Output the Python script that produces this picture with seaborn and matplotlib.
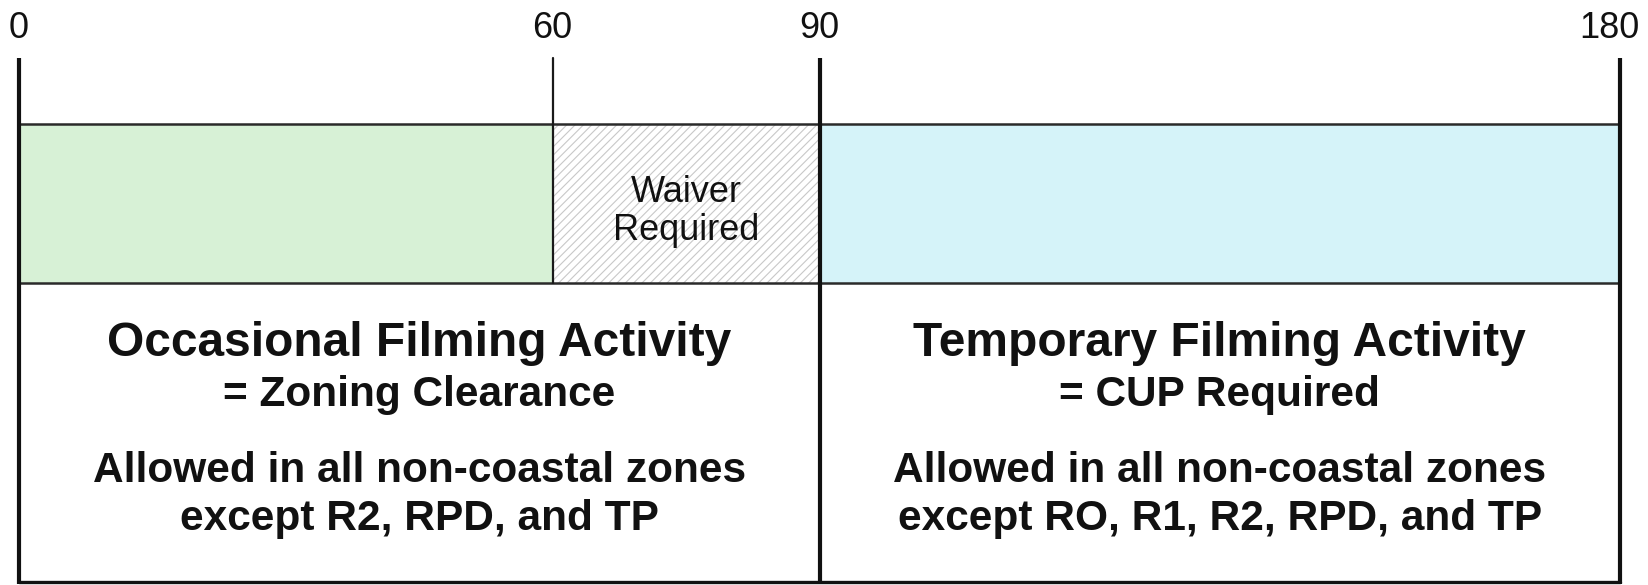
import matplotlib
matplotlib.use("Agg")
import matplotlib.pyplot as plt
import seaborn as sns

# timeline data (days)
tick_days = [0, 60, 90, 180]
seg_start = [0, 60, 90]
seg_end = [60, 90, 180]
seg_colors = ["#d7f1d6", "#ffffff", "#d5f3f9"]
seg_hatch = [None, "////", None]
seg_labels = [[], ["Waiver", "Required"], []]

period_start = [0, 90]
period_end = [90, 180]
period_titles = ["Occasional Filming Activity", "Temporary Filming Activity"]
period_subtitles = ["= Zoning Clearance", "= CUP Required"]
period_notes = [["Allowed in all non-coastal zones", "except R2, RPD, and TP"],
                ["Allowed in all non-coastal zones", "except RO, R1, R2, RPD, and TP"]]

sns.set_theme(style="white")
plt.rcParams["font.family"] = ["Liberation Sans", "DejaVu Sans"]
plt.rcParams["hatch.color"] = "#c8c8c8"
plt.rcParams["hatch.linewidth"] = 0.8

fig = plt.figure(figsize=(16.48, 5.85), dpi=100)
ax = fig.add_axes([0, 0, 1, 1])
ax.set_xlim(-2.14, 183.15)
ax.set_ylim(585, 0)
ax.axis("off")

ink = "#111111"

# bar segments
bar_top, bar_bottom = 124, 283
for s, e, c, h, lab in zip(seg_start, seg_end, seg_colors, seg_hatch, seg_labels):
    ax.barh((bar_top + bar_bottom) / 2, e - s, left=s, height=bar_bottom - bar_top,
            color=c, hatch=h, edgecolor="#c8c8c8" if h else c, linewidth=0)
    for i, line in enumerate(lab):
        ax.text((s + e) / 2, 192 + 39 * i, line, ha="center", va="center",
                fontsize=26, color=ink)
ax.plot([0, 180], [bar_top, bar_top], color="#2a2a2a", lw=1.8)
ax.plot([0, 180], [bar_bottom, bar_bottom], color="#2a2a2a", lw=1.8)

# vertical markers and day labels
for d in tick_days:
    if d == 60:
        ax.plot([d, d], [58, bar_bottom], color="#1a1a1a", lw=1.6)
    else:
        ax.plot([d, d], [58, 584], color=ink, lw=3.0, solid_capstyle="butt")
    if d == tick_days[-1]:
        # last label pushed left so it stays inside the figure
        ax.annotate(str(d), (d, 28), xytext=(20, 0), textcoords="offset pixels",
                    ha="right", va="center", fontsize=26, color=ink)
    else:
        ax.text(d, 28, str(d), ha="center", va="center", fontsize=26, color=ink)
ax.plot([0, 180], [582, 582], color=ink, lw=2.4)

# period descriptions
for s, e, t, st, n in zip(period_start, period_end, period_titles, period_subtitles, period_notes):
    cx = (s + e) / 2
    ax.text(cx, 343, t, ha="center", va="center", fontsize=34.5, fontweight="bold", color=ink)
    ax.text(cx, 395, st, ha="center", va="center", fontsize=30.5, fontweight="bold", color=ink)
    for i, line in enumerate(n):
        ax.text(cx, 471 + 48 * i, line, ha="center", va="center", fontsize=30.5,
                fontweight="bold", color=ink)

fig.savefig("out.png", dpi=100, facecolor="white")
